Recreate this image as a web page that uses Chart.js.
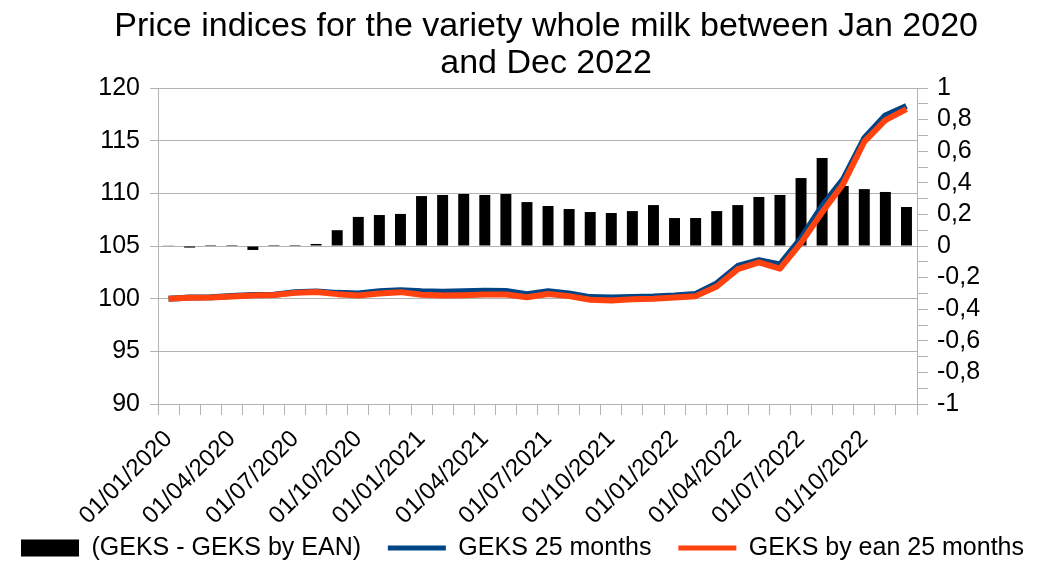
<!DOCTYPE html>
<html>
<head>
<meta charset="utf-8">
<script src="https://cdn.jsdelivr.net/npm/chart.js@4.4.1/dist/chart.umd.min.js"></script>
<style>
  html, body { margin: 0; padding: 0; background: #fff; }
  #wrap { width: 1045px; height: 562px; }
</style>
</head>
<body>
<div id="wrap"><canvas id="milk-chart" width="1045" height="562"></canvas></div>
<script>
const months = [
    '01/01/2020', '01/02/2020', '01/03/2020', '01/04/2020', '01/05/2020', '01/06/2020',
    '01/07/2020', '01/08/2020', '01/09/2020', '01/10/2020', '01/11/2020', '01/12/2020',
    '01/01/2021', '01/02/2021', '01/03/2021', '01/04/2021', '01/05/2021', '01/06/2021',
    '01/07/2021', '01/08/2021', '01/09/2021', '01/10/2021', '01/11/2021', '01/12/2021',
    '01/01/2022', '01/02/2022', '01/03/2022', '01/04/2022', '01/05/2022', '01/06/2022',
    '01/07/2022', '01/08/2022', '01/09/2022', '01/10/2022', '01/11/2022', '01/12/2022'
];

// difference between the two indices (right axis)
const gapGeks = [
    0.002, -0.01, 0.006, 0.006, -0.025, 0.006, 0.006, 0.013, 0.10, 0.184, 0.196, 0.203,
    0.316, 0.323, 0.329, 0.323, 0.329, 0.278, 0.253, 0.234, 0.215, 0.209, 0.221, 0.259,
    0.177, 0.177, 0.221, 0.259, 0.31, 0.323, 0.43, 0.557, 0.38, 0.36, 0.342, 0.247
];

const geks25 = [
    100.0, 100.12, 100.13, 100.25, 100.35, 100.37, 100.6, 100.67, 100.55, 100.5, 100.7, 100.8,
    100.7, 100.66, 100.7, 100.75, 100.72, 100.42, 100.7, 100.5, 100.15, 100.1, 100.15, 100.2,
    100.3, 100.45, 101.45, 103.1, 103.65, 103.25, 105.75, 108.8, 111.35, 115.25, 117.4, 118.3
];

const geksByEan25 = [
    100.0, 100.09, 100.1, 100.2, 100.3, 100.35, 100.55, 100.64, 100.43, 100.3, 100.5, 100.62,
    100.38, 100.3, 100.33, 100.4, 100.4, 100.13, 100.45, 100.24, 99.9, 99.83, 99.95, 100.0,
    100.1, 100.24, 101.15, 102.8, 103.45, 102.85, 105.3, 108.2, 110.9, 114.9, 116.95, 118.0
];

const legendNames = ['(GEKS - GEKS by EAN)', 'GEKS 25 months', 'GEKS by ean 25 months'];
const titleLines = ['Price indices for the variety whole milk between Jan 2020', 'and Dec 2022'];

const axisGrey = '#b3b3b3';
const font = 'Liberation Sans, Arial, sans-serif';
// leading blanks nudge the centred title a little to the right
const titleIndent = '\u00a0\u00a0\u00a0\u00a0\u00a0';

const ctx = document.getElementById('milk-chart').getContext('2d');

let chart = new Chart(ctx, {
    type: 'bar',
    data: {
        labels: months,
        datasets: [{
            type: 'bar',
            label: legendNames[0],
            data: gapGeks,
            yAxisID: 'y1',
            backgroundColor: '#000000',
            borderWidth: 0,
            barPercentage: 0.52,
            categoryPercentage: 1.0,
            order: 3
        }, {
            type: 'line',
            label: legendNames[1],
            data: geks25,
            yAxisID: 'y',
            borderColor: '#004586',
            backgroundColor: '#004586',
            borderWidth: 6,
            pointRadius: 0,
            tension: 0,
            borderJoinStyle: 'round',
            order: 2
        }, {
            type: 'line',
            label: legendNames[2],
            data: geksByEan25,
            yAxisID: 'y',
            borderColor: '#ff420e',
            backgroundColor: '#ff420e',
            borderWidth: 6,
            pointRadius: 0,
            tension: 0,
            borderJoinStyle: 'round',
            order: 1
        }]
    },
    options: {
        responsive: false,
        animation: false,
        layout: { padding: { left: 0, right: 0, top: 0, bottom: -8.5 } },
        plugins: {
            title: {
                display: true,
                text: titleLines.map((t) => titleIndent + t),
                color: '#000',
                font: { family: font, size: 34, weight: 'normal', lineHeight: 37 / 34 },
                padding: { top: 8, bottom: 6 }
            },
            legend: {
                position: 'bottom',
                labels: {
                    color: '#000',
                    font: { family: font, size: 25 },
                    usePointStyle: true,
                    pointStyleWidth: 58,
                    boxHeight: 17,
                    padding: 6,
                    // trailing spaces widen the gap between legend entries
                    generateLabels: (c) => c.data.datasets.map((ds, i) => ({
                        text: i < 2 ? ds.label + '\u00a0\u00a0\u00a0' : ds.label,
                        fillStyle: ds.backgroundColor,
                        strokeStyle: ds.type === 'line' ? ds.borderColor : ds.backgroundColor,
                        lineWidth: ds.type === 'line' ? 5 : 0,
                        pointStyle: ds.type === 'line' ? 'line' : 'rect',
                        datasetIndex: i,
                        fontColor: '#000',
                        hidden: false
                    }))
                }
            },
            tooltip: { enabled: false }
        },
        scales: {
            x: {
                offset: true,
                afterFit: (axis) => { axis.height = 125.5; },
                grid: {
                    offset: true,
                    drawOnChartArea: false,
                    drawTicks: true,
                    tickLength: 11,
                    color: axisGrey
                },
                border: { color: axisGrey },
                ticks: {
                    autoSkip: false,
                    maxRotation: 45,
                    minRotation: 45,
                    padding: 10,
                    color: '#000',
                    font: { family: font, size: 24 },
                    callback: (v, i) => (i % 3 === 0 ? months[i] : '')
                }
            },
            y: {
                position: 'left',
                min: 90,
                max: 120,
                afterFit: (axis) => { axis.width = 158; },
                grid: { color: axisGrey, tickLength: 8 },
                border: { color: axisGrey },
                ticks: {
                    stepSize: 5,
                    padding: 10,
                    color: '#000',
                    font: { family: font, size: 25 }
                }
            },
            y1: {
                position: 'right',
                min: -1,
                max: 1,
                afterFit: (axis) => { axis.width = 128; },
                grid: { drawOnChartArea: false, color: axisGrey, tickLength: 11 },
                border: { color: axisGrey },
                ticks: {
                    stepSize: 0.1,
                    autoSkip: false,
                    padding: 9,
                    color: '#000',
                    font: { family: font, size: 25 },
                    callback: (v) => {
                        const tenths = Math.round(v * 10);
                        if (tenths % 2 !== 0) return '';
                        return String(tenths / 10).replace('.', ',');
                    }
                }
            }
        }
    }
});
</script>
</body>
</html>
